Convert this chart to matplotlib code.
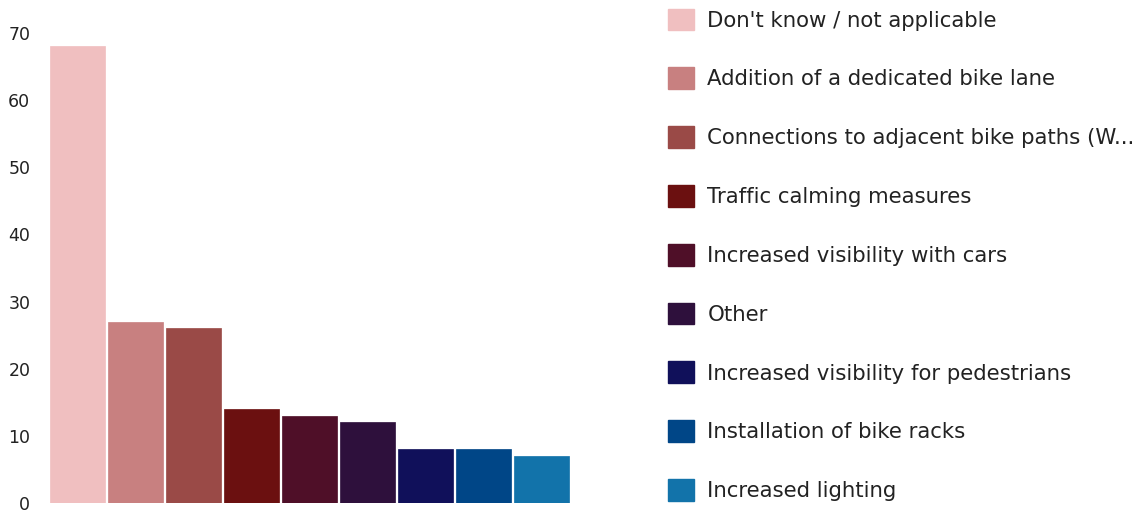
import matplotlib.pyplot as plt
from matplotlib.patches import Patch

categories = [
    "Don't know / not applicable",
    "Addition of a dedicated bike lane",
    "Connections to adjacent bike paths (W...",
    "Traffic calming measures",
    "Increased visibility with cars",
    "Other",
    "Increased visibility for pedestrians",
    "Installation of bike racks",
    "Increased lighting",
]
values = [68, 27, 26, 14, 13, 12, 8, 8, 7]
colors = ["#F0BFC0", "#C88080", "#9A4A47", "#6B1010", "#4F0F28",
          "#2E103C", "#10105A", "#004687", "#1273AA"]
yticks = [0, 10, 20, 30, 40, 50, 60, 70]

plt.rcParams['font.family'] = ['DejaVu Sans']

fig = plt.figure(figsize=(11.47, 5.12), dpi=100)
ax = fig.add_axes([0.041, 0.0176, 0.458, 0.918])

x = range(len(values))
ax.bar(x, values, width=0.95, color=colors, edgecolor=colors, linewidth=0.5)
ax.set_xlim(-0.53, len(values) - 0.47)
ax.set_ylim(0, 70)
ax.set_yticks(yticks)
ax.set_xticks([])
ax.tick_params(axis='y', length=0, labelsize=12.5, colors='#222222', pad=12)
for s in ax.spines.values():
    s.set_visible(False)

handles = [Patch(facecolor=c, edgecolor=c) for c in colors]
leg = fig.legend(handles, categories, loc='upper left',
                 bbox_to_anchor=(0.575, 1.0), frameon=False,
                 fontsize=15.3, handlelength=1.2, handleheight=1.2,
                 handletextpad=0.65, labelspacing=1.73, borderaxespad=0)
for t in leg.get_texts():
    t.set_color('#222222')

fig.savefig('out.png', dpi=100)
